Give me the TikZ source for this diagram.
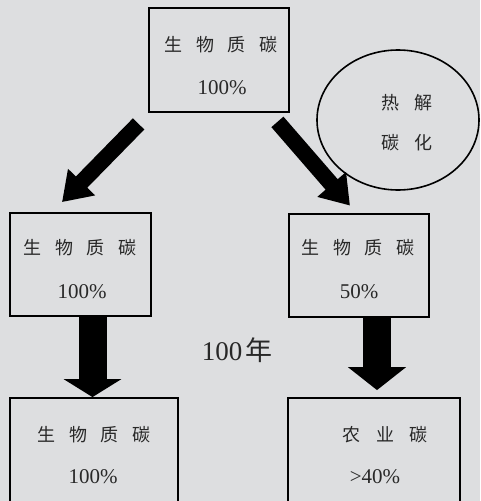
\documentclass[tikz,border=0pt]{standalone}
\usepackage{fontspec}
\setmainfont{Liberation Serif}
\newfontfamily\cjk{Noto Sans CJK SC}
\usetikzlibrary{arrows.meta,shapes.geometric}
\definecolor{bgc}{RGB}{221,222,224}
\definecolor{txt}{RGB}{40,40,40}
\newcommand\cg{\hspace{13.7pt}}
\newcommand\cgb{\hspace{15.5pt}}
\begin{document}
\begin{tikzpicture}[x=1pt,y=-1pt,
  box/.style={draw=black,line width=1.8pt,inner sep=0pt},
  zh/.style={text=txt,font=\cjk\fontsize{18pt}{21pt}\selectfont,inner sep=0pt},
  num/.style={text=txt,font=\fontsize{21pt}{24pt}\selectfont,inner sep=0pt},
  diagarrow/.style={line width=16pt,-{Triangle[width=36pt,length=28pt]}},
  vertarrow/.style={line width=28pt,-{Triangle[width=57pt,length=#1]}}]
\fill[bgc] (0,0) rectangle (480,501);
\useasboundingbox (0,0) rectangle (480,501);
\clip (0,0) rectangle (480,501);
% boxes
\node[box,minimum width=140pt,minimum height=104pt] (top) at (219,60) {};
\node[box,minimum width=141pt,minimum height=103pt] (ml) at (80.5,264.5) {};
\node[box,minimum width=140pt,minimum height=103pt] (mr) at (359,265.5) {};
\node[box,minimum width=168pt,minimum height=122pt] (bl) at (94,459) {};
\node[box,minimum width=172pt,minimum height=122pt] (br) at (374,459) {};
\node[ellipse,draw=black,line width=1.6pt,minimum width=162pt,minimum height=140pt,inner sep=0pt] (pyro) at (398,120) {};
% texts
\node[zh] (t1) at (221,45) {生\cg 物\cg 质\cg 碳};
\node[num] (t2) at (222,88) {100\%};
\node[zh] (ml1) at (80,248) {生\cg 物\cg 质\cg 碳};
\node[num] (ml2) at (82,292) {100\%};
\node[zh] (mr1) at (358,248) {生\cg 物\cg 质\cg 碳};
\node[num] (mr2) at (359,292) {50\%};
\node[zh] (bl1) at (94,435) {生\cg 物\cg 质\cg 碳};
\node[num] (bl2) at (93,477) {100\%};
\node[zh] (br1) at (385,435) {农\cgb 业\cgb 碳};
\node[num] (br2) at (375,477) {>40\%};
\node[zh] (p1) at (407,103) {热\cgb 解};
\node[zh] (p2) at (407,143) {碳\cgb 化};
\node[text=txt,inner sep=0pt] (yr) at (237,350) {\fontsize{27pt}{30pt}\selectfont 100\hspace{3pt}{\cjk 年}};
% arrows
\coordinate (la0) at ([shift={(-9.5,11)}]top.south west);
\coordinate (la1) at ([shift={(-18.5,-10)}]ml.north);
\coordinate (ra0) at ([shift={(-12.5,9)}]top.south east);
\coordinate (ra1) at ([shift={(-9,-7.5)}]mr.north);
\draw[diagarrow] (la0) -- (la1);
\draw[diagarrow] (ra0) -- (ra1);
\draw[vertarrow=18pt] ([xshift=12pt]ml.south) -- ([xshift=-1.5pt]bl.north);
\draw[vertarrow=23pt] ([xshift=18pt]mr.south) -- ([xshift=3pt,yshift=7pt]br.north);
\end{tikzpicture}
\end{document}
